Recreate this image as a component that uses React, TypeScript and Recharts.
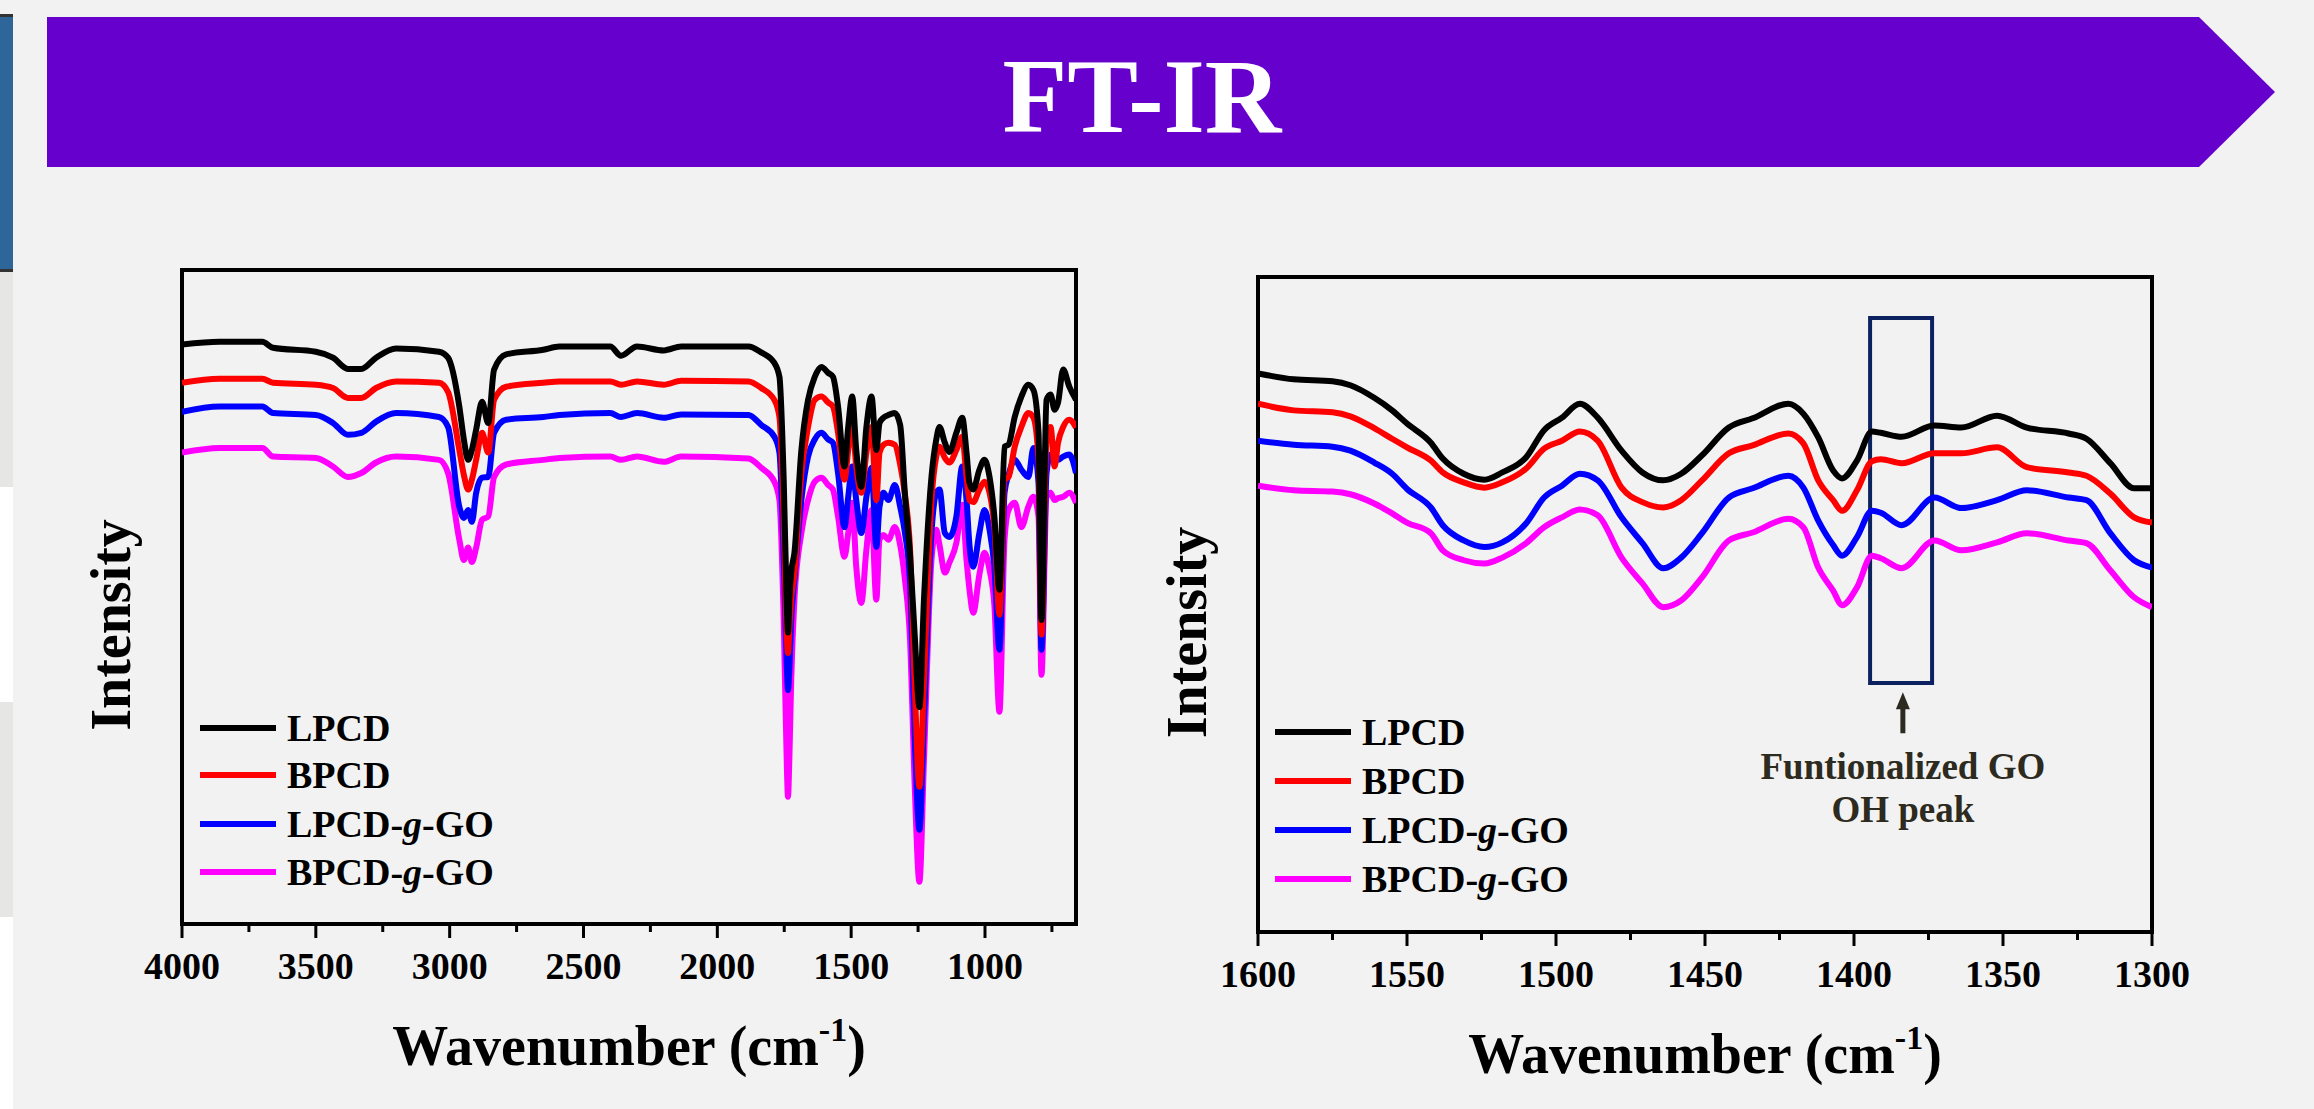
import React from 'react'
import { LineChart, Line, XAxis, YAxis, ReferenceArea, ReferenceLine, ReferenceDot } from 'recharts'

const FONT = '"Liberation Serif", "Times New Roman", serif'

// full spectrum, wavenumber (cm-1) and intensity (a.u.)
const LEFT_WN = [
  4000, 3860, 3700, 3660, 3500, 3436, 3380, 3330, 3275, 3200,
  3040, 3006, 2964, 2947, 2931, 2917, 2901, 2879, 2856, 2834,
  2789, 2650, 2590, 2400, 2360, 2300, 2200, 2135, 1884, 1836,
  1787, 1768, 1752, 1740, 1736, 1731, 1724, 1712, 1686, 1661,
  1636, 1611, 1586, 1568, 1549, 1525, 1511, 1496, 1481, 1462,
  1443, 1424, 1406, 1394, 1379, 1361, 1337, 1317, 1299, 1280,
  1262, 1245, 1228, 1200, 1182, 1170, 1150, 1133, 1107, 1085,
  1069, 1058, 1044, 1021, 1002, 983, 965, 946, 927, 912,
  889, 864, 838, 819, 800, 789, 770, 755, 740, 727,
  708, 685, 660,
]
const LEFT_LPCD = [
  88.5, 88.9, 88.9, 88.0, 87.4, 86.5, 84.8, 84.8, 86.5, 87.9,
  87.4, 86.5, 79.1, 74.1, 71.0, 72.5, 75.6, 79.8, 76.6, 84.7,
  87.0, 87.7, 88.2, 88.2, 86.8, 88.2, 87.6, 88.2, 88.2, 87.3,
  85.7, 83.6, 68.0, 48.3, 44.8, 49.8, 53.9, 56.9, 72.5, 80.1,
  83.6, 85.1, 84.2, 83.6, 79.1, 70.0, 76.0, 80.6, 72.5, 66.9,
  76.0, 80.6, 72.5, 76.6, 77.4, 77.8, 78.1, 76.3, 65.7, 56.5,
  44.0, 33.5, 49.8, 68.4, 74.1, 76.0, 73.6, 72.2, 75.1, 77.4,
  72.1, 67.5, 66.5, 69.5, 71.0, 68.4, 62.4, 51.3, 73.0, 73.3,
  77.5, 80.6, 82.4, 81.6, 75.1, 46.7, 80.1, 80.9, 78.6, 79.7,
  84.7, 82.1, 80.1,
]
const LEFT_BPCD = [
  82.7, 83.3, 83.3, 82.7, 82.4, 81.9, 80.4, 80.4, 81.9, 82.9,
  82.7, 81.3, 72.5, 68.7, 66.5, 68.0, 71.0, 75.1, 72.1, 80.1,
  82.1, 82.7, 82.9, 82.9, 82.4, 82.9, 82.4, 83.0, 82.9, 81.9,
  80.1, 77.5, 61.9, 43.7, 41.7, 45.2, 49.8, 53.9, 69.0, 76.0,
  80.1, 80.6, 79.7, 79.1, 75.1, 68.0, 72.5, 76.6, 70.0, 66.0,
  72.1, 76.0, 64.9, 72.1, 73.3, 73.6, 73.3, 70.3, 65.7, 57.4,
  36.1, 21.4, 37.6, 64.9, 71.5, 73.0, 71.3, 70.6, 72.5, 74.5,
  68.4, 64.9, 64.6, 66.5, 67.7, 66.0, 60.8, 47.5, 68.0, 68.4,
  73.0, 76.0, 78.1, 77.4, 71.0, 44.5, 74.1, 76.0, 70.0, 73.6,
  76.0, 77.1, 75.9,
]
const LEFT_LPCD_GO = [
  78.3, 79.1, 79.1, 78.1, 77.8, 76.6, 74.8, 75.1, 76.8, 78.1,
  77.5, 76.0, 63.9, 62.2, 63.4, 61.6, 66.0, 68.3, 68.4, 75.1,
  77.1, 77.5, 77.8, 78.1, 77.5, 78.1, 77.4, 77.9, 77.8, 76.3,
  74.5, 72.1, 55.8, 39.2, 36.1, 39.2, 46.7, 52.8, 64.9, 71.5,
  74.1, 75.1, 74.1, 73.6, 69.0, 60.8, 65.4, 70.0, 64.9, 59.9,
  65.4, 69.8, 57.8, 63.9, 66.0, 64.9, 67.2, 63.9, 59.9, 52.4,
  28.5, 14.9, 31.6, 59.9, 66.0, 66.5, 59.9, 59.3, 62.4, 70.0,
  64.9, 58.1, 54.8, 59.9, 63.4, 60.4, 54.8, 42.2, 66.0, 68.7,
  71.0, 69.5, 68.4, 72.8, 67.5, 42.2, 69.0, 71.8, 71.3, 71.0,
  71.5, 71.8, 69.0,
]
const LEFT_BPCD_GO = [
  72.1, 72.8, 72.8, 71.5, 71.3, 70.0, 68.4, 69.0, 70.6, 71.5,
  71.0, 69.0, 58.9, 55.8, 57.7, 55.5, 57.7, 61.9, 62.4, 68.4,
  70.3, 71.0, 71.3, 71.5, 71.0, 71.5, 70.7, 71.5, 71.2, 69.8,
  67.7, 64.9, 46.7, 24.0, 19.9, 25.5, 37.6, 49.8, 59.9, 64.9,
  67.7, 68.3, 67.2, 66.5, 62.4, 56.3, 59.9, 64.5, 54.8, 49.3,
  57.4, 63.4, 49.8, 58.9, 59.6, 58.9, 60.8, 58.1, 52.8, 43.7,
  20.9, 7.0, 25.5, 55.8, 60.4, 58.1, 53.9, 55.4, 58.4, 64.2,
  55.8, 51.3, 47.8, 53.6, 56.9, 54.3, 49.0, 32.8, 58.9, 63.4,
  64.5, 60.8, 63.9, 65.4, 62.4, 38.4, 65.4, 66.0, 64.9, 65.2,
  65.4, 66.0, 64.5,
]
const LEFT_TICKS = [4000, 3750, 3500, 3250, 3000, 2750, 2500, 2250, 2000, 1750, 1500, 1250, 1000, 750]
const LEFT_LABELS = [4000, 3500, 3000, 2500, 2000, 1500, 1000]

// zoomed 1600-1300 region
const RIGHT_WN = [
  1600, 1588, 1575, 1569, 1561, 1555, 1550, 1542, 1538, 1531,
  1524, 1518, 1510, 1504, 1498, 1492, 1486, 1478, 1471, 1464,
  1458, 1451, 1442, 1434, 1422, 1417, 1412, 1407, 1404, 1399,
  1394, 1391, 1384, 1373, 1364, 1352, 1342, 1328, 1322, 1314,
  1306, 1300,
]
const RIGHT_LPCD = [
  85.2, 84.3, 84.0, 83.4, 81.5, 79.6, 77.6, 74.7, 72.3, 70.0,
  69.1, 70.2, 72.5, 76.6, 78.5, 80.6, 78.5, 73.5, 70.2, 69.0,
  70.0, 72.8, 77.0, 78.4, 80.6, 79.1, 75.5, 70.5, 69.3, 72.0,
  76.4, 76.2, 75.6, 77.3, 77.0, 78.8, 77.0, 76.1, 75.3, 71.6,
  67.8, 67.8,
]
const RIGHT_BPCD = [
  80.6, 79.6, 79.3, 78.7, 76.9, 75.3, 74.0, 72.0, 70.2, 68.7,
  67.9, 68.7, 70.8, 73.8, 75.0, 76.4, 75.0, 67.9, 65.7, 64.9,
  66.0, 69.0, 73.1, 74.3, 76.1, 74.6, 69.0, 66.0, 64.4, 67.5,
  71.9, 72.2, 71.6, 73.1, 73.1, 74.0, 71.0, 70.2, 69.7, 67.0,
  63.4, 62.6,
]
const RIGHT_LPCD_GO = [
  75.0, 74.4, 74.1, 73.5, 71.7, 70.0, 67.7, 64.9, 62.2, 59.9,
  58.9, 59.6, 62.5, 66.4, 68.2, 70.0, 69.0, 63.4, 59.5, 55.7,
  57.3, 61.0, 66.4, 67.8, 69.7, 67.9, 62.9, 59.2, 57.6, 60.4,
  64.4, 64.1, 62.2, 66.4, 64.8, 66.0, 67.5, 66.4, 66.0, 61.0,
  56.9, 55.8,
]
const RIGHT_BPCD_GO = [
  68.2, 67.5, 67.3, 66.9, 65.5, 64.0, 62.6, 61.0, 58.4, 56.9,
  56.4, 57.3, 59.5, 61.9, 63.4, 64.6, 63.7, 57.3, 53.4, 49.8,
  50.8, 54.3, 59.9, 61.1, 63.2, 61.9, 55.8, 52.3, 50.1, 52.8,
  57.6, 57.2, 55.7, 59.9, 58.4, 59.6, 61.0, 59.9, 59.5, 55.4,
  51.3, 49.8,
]
const RIGHT_TICKS = [1600, 1575, 1550, 1525, 1500, 1475, 1450, 1425, 1400, 1375, 1350, 1325, 1300]
const RIGHT_LABELS = [1600, 1550, 1500, 1450, 1400, 1350, 1300]

const SERIES = [
  { key: 'lpcd', name: 'LPCD', color: '#000000' },
  { key: 'bpcd', name: 'BPCD', color: '#ff0000' },
  { key: 'lpcdGo', name: 'LPCD-g-GO', color: '#0000ff' },
  { key: 'bpcdGo', name: 'BPCD-g-GO', color: '#ff00ff' },
]

// OH peak box and annotation (data units)
const BOX = { x1: 1394.6, x2: 1373.8, y1: 38.3, y2: 93.6 }
const ARROW = { x: 1383.6, tip: 36.9, tail: 30.7 }
const NOTE = { x: 1383.6, y: 23.8, lines: ['Funtionalized GO', 'OH peak'] }

const Y_DOMAIN = [0.6, 99.8]

const leftData = LEFT_WN.map((wn, i) => ({
  wn,
  lpcd: LEFT_LPCD[i],
  bpcd: LEFT_BPCD[i],
  lpcdGo: LEFT_LPCD_GO[i],
  bpcdGo: LEFT_BPCD_GO[i],
}))
const rightData = RIGHT_WN.map((wn, i) => ({
  wn,
  lpcd: RIGHT_LPCD[i],
  bpcd: RIGHT_BPCD[i],
  lpcdGo: RIGHT_LPCD_GO[i],
  bpcdGo: RIGHT_BPCD_GO[i],
}))

function SeriesName({ name }: { name: string }) {
  const parts = name.split('-g-')
  if (parts.length === 1) return <>{name}</>
  return (
    <>
      {parts[0]}-<i>g</i>-{parts[1]}
    </>
  )
}

function AxisTick(props: any) {
  const { x, y, payload, labels } = props
  const major = labels.includes(payload.value)
  return (
    <g>
      <line x1={x} y1={y} x2={x} y2={y + (major ? 14 : 8)} stroke="#000" strokeWidth={3} />
      {major && (
        <text x={x} y={y + 55} textAnchor="middle" fontSize={38} fontWeight="bold" fontFamily={FONT} fill="#000">
          {payload.value}
        </text>
      )}
    </g>
  )
}

function WavenumberLabel(props: any) {
  const vb = props.viewBox
  return (
    <text x={vb.x + vb.width / 2} y={vb.y + 141} textAnchor="middle" fontSize={56} fontWeight="bold" fontFamily={FONT} fill="#000">
      Wavenumber (cm
      <tspan fontSize={34} dy={-24}>-1</tspan>
      <tspan dy={24}>)</tspan>
    </text>
  )
}

function IntensityLabel(props: any) {
  const vb = props.viewBox
  const cx = vb.x + 8
  const cy = vb.y + vb.height / 2 + 28
  return (
    <text x={cx} y={cy} transform={`rotate(-90, ${cx}, ${cy})`} textAnchor="middle" fontSize={56} fontWeight="bold" fontFamily={FONT} fill="#000">
      Intensity
    </text>
  )
}

type PanelProps = {
  data: any[]
  domain: number[]
  ticks: number[]
  labels: number[]
  left: number
  margin: { top: number; right: number; left: number; bottom: number }
  xHeight: number
  lineWidth: number
  children?: React.ReactNode
}

function Panel({ data, domain, ticks, labels, left, margin, xHeight, lineWidth, children }: PanelProps) {
  return (
    <div style={{ position: 'absolute', left, top: 220 }}>
      <LineChart width={1080} height={885} data={data} margin={margin} style={{ overflow: 'visible' }}>
        <XAxis
          dataKey="wn"
          type="number"
          domain={domain}
          reversed
          allowDataOverflow
          ticks={ticks}
          interval={0}
          tickSize={0}
          tickMargin={0}
          tickLine={false}
          tick={(p: any) => <AxisTick {...p} labels={labels} />}
          axisLine={{ stroke: '#000', strokeWidth: 4 }}
          height={xHeight}
          label={WavenumberLabel}
        />
        <YAxis
          type="number"
          domain={Y_DOMAIN}
          allowDataOverflow
          width={60}
          tick={false}
          tickLine={false}
          axisLine={false}
          label={IntensityLabel}
        />
        <ReferenceArea
          x1={domain[1]}
          x2={domain[0]}
          y1={Y_DOMAIN[0]}
          y2={Y_DOMAIN[1]}
          fill="none"
          fillOpacity={0}
          stroke="#000"
          strokeWidth={4}
          ifOverflow="visible"
        />
        {[...SERIES].reverse().map((s) => (
          <Line
            key={s.key}
            type="monotone"
            dataKey={s.key}
            name={s.name}
            stroke={s.color}
            strokeWidth={lineWidth}
            dot={false}
            activeDot={false}
            isAnimationActive={false}
          />
        ))}
        {children}
      </LineChart>
    </div>
  )
}

function LegendBlock({ x, rows }: { x: number; rows: number[] }) {
  return (
    <>
      {SERIES.map((s, i) => (
        <div
          key={s.key}
          style={{
            position: 'absolute',
            left: x,
            top: rows[i] - 20,
            height: 40,
            display: 'flex',
            alignItems: 'center',
            fontFamily: FONT,
            fontWeight: 'bold',
            fontSize: 38,
            lineHeight: 1,
            color: '#000',
            whiteSpace: 'nowrap',
          }}
        >
          <span style={{ display: 'inline-block', width: 76, height: 6, background: s.color, marginRight: 11 }} />
          <span>
            <SeriesName name={s.name} />
          </span>
        </div>
      ))}
    </>
  )
}

export default function App() {
  return (
    <div style={{ position: 'absolute', left: 0, top: 0, width: 2314, height: 1109, background: '#f2f2f2', overflow: 'hidden' }}>
      {/* strip of the neighbouring slide */}
      <div style={{ position: 'absolute', left: 0, top: 14, width: 13, height: 258, background: '#2f6699', borderTop: '3px solid #333', borderBottom: '3px solid #333', boxSizing: 'border-box' }} />
      <div style={{ position: 'absolute', left: 0, top: 272, width: 13, height: 215, background: '#e6e6e4' }} />
      <div style={{ position: 'absolute', left: 0, top: 487, width: 13, height: 215, background: '#ffffff' }} />
      <div style={{ position: 'absolute', left: 0, top: 702, width: 13, height: 215, background: '#e6e6e4' }} />
      <div style={{ position: 'absolute', left: 0, top: 917, width: 13, height: 192, background: '#ffffff' }} />

      {/* title banner */}
      <svg style={{ position: 'absolute', left: 0, top: 0 }} width={2314} height={200}>
        <polygon points="47,17 2199,17 2275,92 2199,167 47,167" fill="#6600cc" />
        <text x={1142} y={132} textAnchor="middle" fontSize={106} fontWeight="bold" fontFamily={FONT} fill="#ffffff">
          FT-IR
        </text>
      </svg>

      <Panel
        data={leftData}
        domain={[660, 4000]}
        ticks={LEFT_TICKS}
        labels={LEFT_LABELS}
        left={40}
        margin={{ top: 50, right: 44, left: 82, bottom: 25 }}
        xHeight={156}
        lineWidth={6}
      />

      <Panel
        data={rightData}
        domain={[1300, 1600]}
        ticks={RIGHT_TICKS}
        labels={RIGHT_LABELS}
        left={1120}
        margin={{ top: 57, right: 48, left: 78, bottom: 25 }}
        xHeight={148}
        lineWidth={6}
      >
        <ReferenceArea
          x1={BOX.x1}
          x2={BOX.x2}
          y1={BOX.y1}
          y2={BOX.y2}
          fill="none"
          fillOpacity={0}
          stroke="#0b2160"
          strokeWidth={4}
          ifOverflow="visible"
        />
        <ReferenceLine
          segment={[
            { x: ARROW.x, y: ARROW.tail },
            { x: ARROW.x, y: ARROW.tip - 2 },
          ]}
          stroke="#2d2a20"
          strokeWidth={5}
        />
        <ReferenceDot
          x={ARROW.x}
          y={ARROW.tip}
          r={0}
          shape={(p: any) => (
            <polygon points={`${p.cx},${p.cy} ${p.cx - 7},${p.cy + 17} ${p.cx + 7},${p.cy + 17}`} fill="#2d2a20" />
          )}
        />
        <ReferenceDot
          x={NOTE.x}
          y={NOTE.y}
          r={0}
          shape={(p: any) => (
            <text x={p.cx} y={p.cy} textAnchor="middle" fontSize={37} fontWeight="bold" fontFamily={FONT} fill="#2d2a20">
              <tspan x={p.cx}>{NOTE.lines[0]}</tspan>
              <tspan x={p.cx} dy={43}>{NOTE.lines[1]}</tspan>
            </text>
          )}
        />
      </Panel>

      <LegendBlock x={200} rows={[728, 775, 824, 872]} />
      <LegendBlock x={1275} rows={[732, 781, 830, 879]} />
    </div>
  )
}
